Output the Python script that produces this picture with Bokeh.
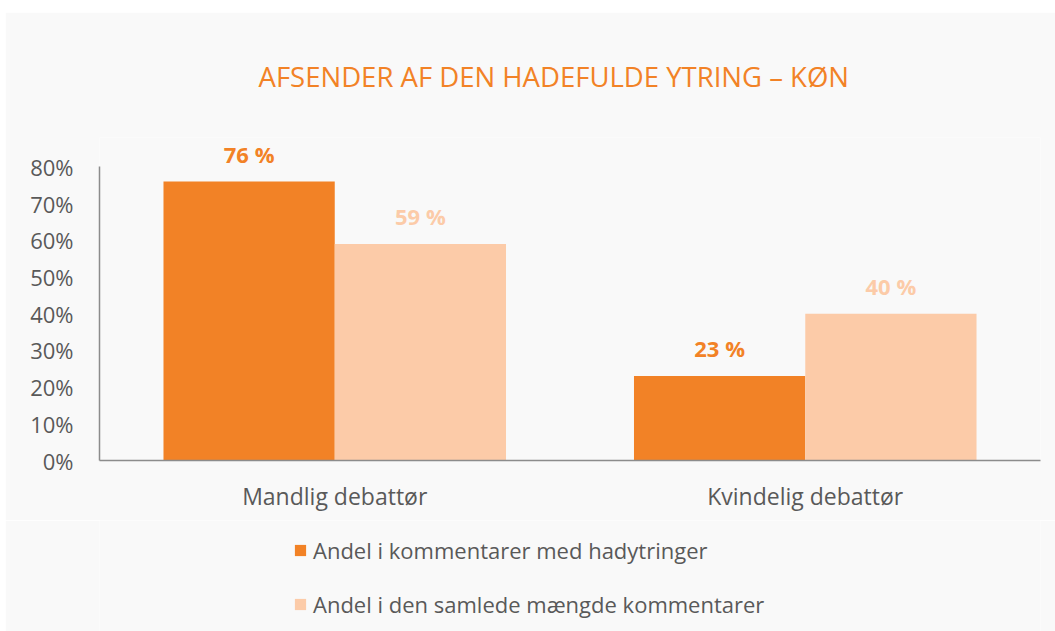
from bokeh.plotting import figure
from bokeh.models import (ColumnDataSource, FactorRange, Range1d, FixedTicker,
                          NumeralTickFormatter, Legend, LegendItem, LabelSet)
from bokeh.layouts import column
from bokeh.transform import dodge
from bokeh.core.properties import value
from bokeh.embed import file_html
from bokeh.resources import INLINE

categories = ["Mandlig debattør", "Kvindelig debattør"]
series_names = ["Andel i kommentarer med hadytringer",
                "Andel i den samlede mængde kommentarer"]
hate_share = [0.76, 0.23]
total_share = [0.59, 0.40]
hate_labels = ["76 %", "23 %"]
total_labels = ["59 %", "40 %"]
y_ticks = [0.0, 0.1, 0.2, 0.3, 0.4, 0.5, 0.6, 0.7, 0.8]

ORANGE = "#F28226"
PEACH = "#FCCBA8"
TEXT = "#595959"
AXIS = "#8C8C8C"
BG = "#F9F9F9"
FONT = "Open Sans"

src = ColumnDataSource(dict(cat=categories, hate=hate_share, total=total_share,
                            hl=hate_labels, tl=total_labels))

p = figure(x_range=FactorRange(*categories), y_range=Range1d(0, 0.88),
           frame_width=941, frame_height=323, output_backend="svg",
           toolbar_location=None,
           min_border_left=94, min_border_right=15, min_border_top=124,
           min_border_bottom=60)
p.margin = (12, 0, 0, 5)
p.background_fill_color = BG
p.border_fill_color = BG
p.outline_line_color = None

p.title.text = "AFSENDER AF DEN HADEFULDE YTRING – KØN"
p.title.align = "left"
p.title.offset = 159
p.title.text_color = ORANGE
p.title.text_font = FONT
p.title.text_font_size = "27.5px"
p.title.text_font_style = "normal"
p.title.standoff = 86

bw = 0.364
r1 = p.vbar(x=dodge("cat", -bw / 2, range=p.x_range), top="hate", width=bw,
            source=src, fill_color=ORANGE, line_color=None)
r2 = p.vbar(x=dodge("cat", bw / 2, range=p.x_range), top="total", width=bw,
            source=src, fill_color=PEACH, line_color=None)

lab1 = LabelSet(x=dodge("cat", -bw / 2, range=p.x_range), y="hate", text="hl",
                source=src, text_align="center", text_baseline="bottom",
                y_offset=13, text_color=ORANGE, text_font=value(FONT),
                text_font_size="22px", text_font_style="bold")
lab2 = LabelSet(x=dodge("cat", bw / 2, range=p.x_range), y="total", text="tl",
                source=src, text_align="center", text_baseline="bottom",
                y_offset=13, text_color=PEACH, text_font=value(FONT),
                text_font_size="22px", text_font_style="bold")
p.add_layout(lab1)
p.add_layout(lab2)

p.xgrid.grid_line_color = None
p.ygrid.grid_line_color = None

p.yaxis.ticker = FixedTicker(ticks=y_ticks)
p.yaxis.bounds = (y_ticks[0], y_ticks[-1])
p.yaxis.formatter = NumeralTickFormatter(format="0%")
p.yaxis.major_tick_line_color = None
p.yaxis.minor_tick_line_color = None
p.yaxis.axis_line_color = AXIS
p.yaxis.axis_line_width = 1.5
p.yaxis.major_label_text_font = FONT
p.yaxis.major_label_text_font_size = "22px"
p.yaxis.major_label_text_color = TEXT
p.yaxis.major_label_standoff = 20

p.xaxis.major_tick_line_color = None
p.xaxis.minor_tick_line_color = None
p.xaxis.axis_line_color = AXIS
p.xaxis.axis_line_width = 1.5
p.xaxis.major_label_text_font = FONT
p.xaxis.major_label_text_font_size = "23px"
p.xaxis.major_label_text_color = TEXT
p.xaxis.major_label_standoff = 13

# legend panel as a second figure below the chart (same frame alignment)
leg_src = ColumnDataSource(dict(x=[0.5], top=[0.0]))
p2 = figure(frame_width=941, frame_height=112, output_backend="svg",
            toolbar_location=None, x_axis_location=None, y_axis_location=None,
            x_range=Range1d(0, 1), y_range=Range1d(0, 1),
            min_border_left=94, min_border_right=15, min_border_top=0,
            min_border_bottom=0)
p2.margin = (0, 0, 0, 5)
p2.background_fill_color = BG
p2.border_fill_color = BG
p2.outline_line_color = None
p2.xgrid.grid_line_color = None
p2.ygrid.grid_line_color = None
g1 = p2.vbar(x="x", top="top", width=0.01, source=leg_src, fill_color=ORANGE,
             line_color=None)
g2 = p2.vbar(x="x", top="top", width=0.01, source=leg_src, fill_color=PEACH,
             line_color=None)

legend = Legend(items=[LegendItem(label=series_names[0], renderers=[g1]),
                       LegendItem(label=series_names[1], renderers=[g2])],
                orientation="vertical", location=(194, 13))
legend.background_fill_alpha = 0
legend.border_line_color = None
legend.label_text_font = FONT
legend.label_text_font_size = "22px"
legend.label_text_color = TEXT
legend.glyph_width = 14
legend.glyph_height = 14
legend.label_height = 24
legend.label_standoff = 6
legend.spacing = 24
legend.padding = 0
legend.margin = 0
p2.add_layout(legend, "center")

layout = column(p, p2, spacing=0)
open("out.html", "w").write(file_html(layout, INLINE))
